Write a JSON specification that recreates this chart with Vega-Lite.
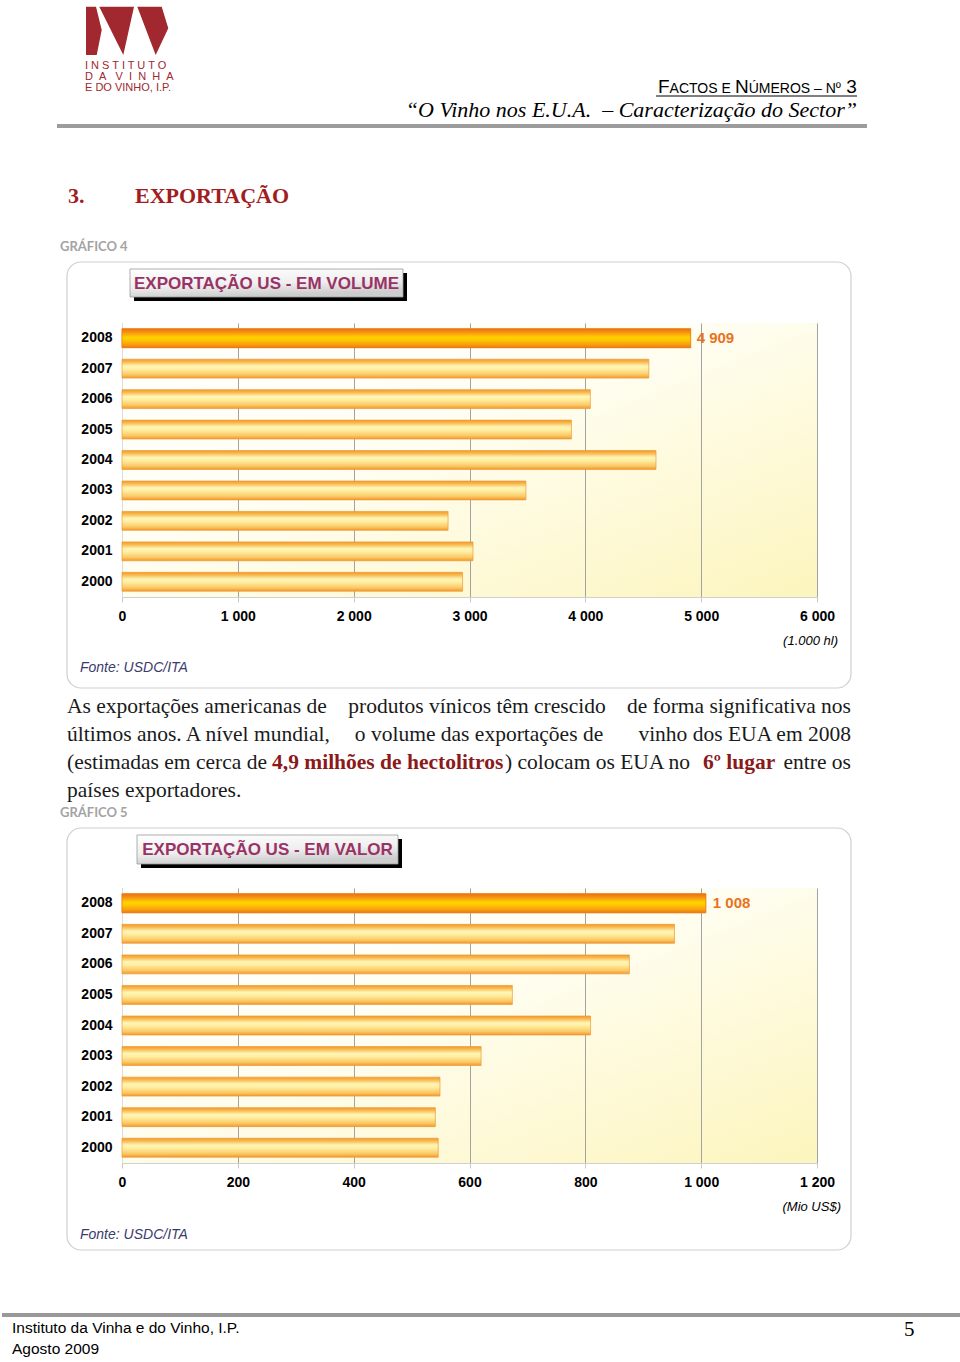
{
  "$schema": "https://vega.github.io/schema/vega-lite/v6.json",
  "padding": 0,
  "spacing": 0,
  "bounds": "flush",
  "background": "#ffffff",
  "config": {
    "view": {"stroke": null},
    "font": "Liberation Sans",
    "locale": {"number": {"decimal": ",", "thousands": " ", "grouping": [3], "currency": ["", " €"]}}
  },
  "datasets": {
    "volume": [
      {"year": "2000", "value": 2940}, {"year": "2001", "value": 3030}, {"year": "2002", "value": 2815},
      {"year": "2003", "value": 3487}, {"year": "2004", "value": 4610}, {"year": "2005", "value": 3880},
      {"year": "2006", "value": 4043}, {"year": "2007", "value": 4548}, {"year": "2008", "value": 4909}
    ],
    "valor": [
      {"year": "2000", "value": 546}, {"year": "2001", "value": 541}, {"year": "2002", "value": 549},
      {"year": "2003", "value": 620}, {"year": "2004", "value": 809}, {"year": "2005", "value": 674},
      {"year": "2006", "value": 876}, {"year": "2007", "value": 954}, {"year": "2008", "value": 1008}
    ]
  },
  "vconcat": [
    {
      "width": 960, "height": 323,
      "layer": [
        {"data": {"values": [{"t": "logo"}]}, "mark": {"type": "point", "filled": true, "size": 7056, "color": "#a0282e", "opacity": 1, "strokeWidth": 0, "shape": "M-0.976,-0.579L-0.738,-0.579L-0.602,-0.024L-0.721,0.571L-0.976,0.571Z M-0.660,-0.579L0.167,-0.579L-0.088,0.571Z M0.245,-0.579L0.826,-0.579L0.983,-0.064L0.683,0.571Z"}, "encoding": {"x": {"value": 127}, "y": {"value": 31}}},
        {"data": {"values": [{"t": "I N S T I T U T O"}]}, "mark": {"type": "text", "align": "left", "baseline": "middle", "fontSize": 11, "color": "#a0282e", "x": 85, "y": 66}, "encoding": {"text": {"field": "t"}}},
        {"data": {"values": [{"t": "D\u00a0\u00a0A\u00a0\u00a0\u00a0V\u00a0\u00a0I\u00a0\u00a0N\u00a0\u00a0H\u00a0\u00a0A"}]}, "mark": {"type": "text", "align": "left", "baseline": "middle", "fontSize": 11, "color": "#a0282e", "x": 85, "y": 76.5}, "encoding": {"text": {"field": "t"}}},
        {"data": {"values": [{"t": "E DO VINHO, I.P."}]}, "mark": {"type": "text", "align": "left", "baseline": "middle", "fontSize": 11, "color": "#a0282e", "x": 85, "y": 87.5}, "encoding": {"text": {"field": "t"}}},
        {"data": {"values": [{"t": "F"}]}, "mark": {"type": "text", "align": "left", "baseline": "alphabetic", "fontSize": 19, "color": "#000000", "x": 658, "y": 93}, "encoding": {"text": {"field": "t"}}},
        {"data": {"values": [{"t": "ACTOS E"}]}, "mark": {"type": "text", "align": "left", "baseline": "alphabetic", "fontSize": 14, "color": "#000000", "x": 669.6, "y": 93}, "encoding": {"text": {"field": "t"}}},
        {"data": {"values": [{"t": "N"}]}, "mark": {"type": "text", "align": "left", "baseline": "alphabetic", "fontSize": 19, "color": "#000000", "x": 735, "y": 93}, "encoding": {"text": {"field": "t"}}},
        {"data": {"values": [{"t": "ÚMEROS – N"}]}, "mark": {"type": "text", "align": "left", "baseline": "alphabetic", "fontSize": 14, "color": "#000000", "x": 748.7, "y": 93}, "encoding": {"text": {"field": "t"}}},
        {"data": {"values": [{"t": "º"}]}, "mark": {"type": "text", "align": "left", "baseline": "alphabetic", "fontSize": 14, "color": "#000000", "x": 835.8, "y": 93}, "encoding": {"text": {"field": "t"}}},
        {"data": {"values": [{"t": "3"}]}, "mark": {"type": "text", "align": "left", "baseline": "alphabetic", "fontSize": 19, "color": "#000000", "x": 846.2, "y": 93}, "encoding": {"text": {"field": "t"}}},
        {"data": {"values": [{"t": "underline"}]}, "mark": {"type": "rule", "color": "#000000", "strokeWidth": 1}, "encoding": {"x": {"value": 656}, "x2": {"value": 857}, "y": {"value": 96}}},
        {"data": {"values": [{"t": "“O Vinho nos E.U.A.\u00a0 – Caracterização do Sector”"}]}, "mark": {"type": "text", "align": "right", "baseline": "alphabetic", "font": "Liberation Serif", "fontStyle": "italic", "fontSize": 22, "color": "#000000", "x": 857, "y": 117}, "encoding": {"text": {"field": "t"}}},
        {"data": {"values": [{"t": "rule"}]}, "mark": {"type": "rule", "color": "#9c9c9c", "strokeWidth": 4}, "encoding": {"x": {"value": 57}, "x2": {"value": 867}, "y": {"value": 126}}},
        {"data": {"values": [{"t": "3."}]}, "mark": {"type": "text", "align": "left", "baseline": "alphabetic", "font": "Liberation Serif", "fontWeight": "bold", "fontSize": 22, "color": "#a11d21", "x": 68, "y": 203}, "encoding": {"text": {"field": "t"}}},
        {"data": {"values": [{"t": "EXPORTAÇÃO"}]}, "mark": {"type": "text", "align": "left", "baseline": "alphabetic", "font": "Liberation Serif", "fontWeight": "bold", "fontSize": 22, "color": "#a11d21", "x": 135, "y": 203}, "encoding": {"text": {"field": "t"}}},
        {"data": {"values": [{"t": "GRÁFICO 4"}]}, "mark": {"type": "text", "align": "left", "baseline": "alphabetic", "font": "Lato", "fontWeight": "bold", "fontSize": 13, "color": "#a3a3a3", "x": 60, "y": 251}, "encoding": {"text": {"field": "t"}}},
        {"data": {"values": [{"t": "box"}]}, "mark": {"type": "rect", "cornerRadius": 14, "fill": "#ffffff", "fillOpacity": 0, "stroke": "#cfcfcf", "strokeWidth": 1.2}, "encoding": {"x": {"value": 67}, "x2": {"value": 851}, "y": {"value": 262}, "y2": {"value": 688}}},
        {"data": {"values": [{"t": "plot background"}]}, "mark": {"type": "rect", "fill": {"gradient": "linear", "x1": 0, "y1": 0, "x2": 1, "y2": 1, "stops": [{"offset": 0, "color": "#ffffff"}, {"offset": 0.4, "color": "#fffef4"}, {"offset": 1, "color": "#fcf5bd"}]}}, "encoding": {"x": {"value": 122}, "x2": {"value": 817}, "y": {"value": 323}, "y2": {"value": 597}}},
        {"data": {"values": [{"t": "shadow"}]}, "mark": {"type": "rect", "color": "#000000"}, "encoding": {"x": {"value": 134}, "x2": {"value": 407}, "y": {"value": 273}, "y2": {"value": 301}}},
        {"data": {"values": [{"t": "titlebox"}]}, "mark": {"type": "rect", "stroke": "#9a9a9a", "strokeWidth": 0.8, "fill": {"gradient": "linear", "x1": 0, "y1": 0, "x2": 0.3, "y2": 1, "stops": [{"offset": 0, "color": "#ffffff"}, {"offset": 0.6, "color": "#efefef"}, {"offset": 1, "color": "#cdcdcd"}]}}, "encoding": {"x": {"value": 130}, "x2": {"value": 403}, "y": {"value": 269}, "y2": {"value": 297}}},
        {"data": {"values": [{"t": "EXPORTAÇÃO US - EM VOLUME"}]}, "mark": {"type": "text", "align": "center", "baseline": "middle", "fontWeight": "bold", "fontSize": 17, "color": "#993366", "x": 266.5, "y": 284}, "encoding": {"text": {"field": "t"}}}
      ]
    },
    {
      "width": 960, "height": 274,
      "data": {"name": "volume"},
      "encoding": {
        "y": {"field": "year", "type": "ordinal", "sort": "descending", "scale": {"paddingInner": 0.38, "paddingOuter": 0.19},
          "axis": {"title": null, "offset": -122, "ticks": false, "domain": true, "domainColor": "#dcdcdc", "labelFontSize": 14, "labelFontWeight": "bold", "labelColor": "#000000", "labelPadding": 10}},
        "x": {"field": "value", "type": "quantitative", "scale": {"domain": [0, 6000], "nice": false, "range": [122, 817]},
          "axis": {"title": null, "values": [0, 1000, 2000, 3000, 4000, 5000, 6000], "format": ",d", "grid": true, "gridColor": "#a3a3a3", "gridWidth": 1, "domainColor": "#d0d0d0", "tickColor": "#c8c8c8", "tickSize": 5, "labelPadding": 7, "labelFlush": false, "labelFontSize": 14, "labelFontWeight": "bold", "labelColor": "#000000"}}
      },
      "layer": [
        {"mark": {"type": "bar", "stroke": "#ef9a35", "strokeWidth": 0.7, "fill": {"gradient": "linear", "x1": 0, "y1": 0, "x2": 0, "y2": 1, "stops": [{"offset": 0, "color": "#f39a2c"}, {"offset": 0.14, "color": "#f8b84c"}, {"offset": 0.36, "color": "#fff5b6"}, {"offset": 0.52, "color": "#ffefa2"}, {"offset": 0.82, "color": "#fbc865"}, {"offset": 1, "color": "#f2982a"}]}}},
        {"transform": [{"filter": "datum.year == '2008'"}], "mark": {"type": "bar", "stroke": "#ea7a12", "strokeWidth": 0.7, "fill": {"gradient": "linear", "x1": 0, "y1": 0, "x2": 0, "y2": 1, "stops": [{"offset": 0, "color": "#ef7010"}, {"offset": 0.16, "color": "#f58c14"}, {"offset": 0.45, "color": "#ffd200"}, {"offset": 0.6, "color": "#ffc600"}, {"offset": 0.86, "color": "#f79a12"}, {"offset": 1, "color": "#ec7810"}]}}},
        {"transform": [{"filter": "datum.year == '2008'"}], "mark": {"type": "text", "align": "left", "baseline": "middle", "dx": 6, "fontSize": 15, "fontWeight": "bold", "color": "#e8731f"}, "encoding": {"text": {"field": "value", "type": "quantitative", "format": ",d"}}}
      ]
    },
    {
      "width": 960, "height": 291,
      "layer": [
        {"data": {"values": [{"t": "(1.000 hl)"}]}, "mark": {"type": "text", "align": "right", "baseline": "middle", "fontStyle": "italic", "fontSize": 13, "color": "#000000", "x": 838, "y": 44}, "encoding": {"text": {"field": "t"}}},
        {"data": {"values": [{"t": "Fonte: USDC/ITA"}]}, "mark": {"type": "text", "align": "left", "baseline": "middle", "fontStyle": "italic", "fontSize": 14, "color": "#3b3b6e", "x": 80, "y": 71}, "encoding": {"text": {"field": "t"}}},
        {"data": {"values": [{"t": "As exportações americanas de"}]}, "mark": {"type": "text", "align": "left", "baseline": "middle", "font": "Liberation Serif", "fontSize": 21.5, "color": "#1a1a1a", "x": 67, "y": 110}, "encoding": {"text": {"field": "t"}}},
        {"data": {"values": [{"t": "produtos vínicos têm crescido"}]}, "mark": {"type": "text", "align": "center", "baseline": "middle", "font": "Liberation Serif", "fontSize": 21.5, "color": "#1a1a1a", "x": 477, "y": 110}, "encoding": {"text": {"field": "t"}}},
        {"data": {"values": [{"t": "de forma significativa nos"}]}, "mark": {"type": "text", "align": "right", "baseline": "middle", "font": "Liberation Serif", "fontSize": 21.5, "color": "#1a1a1a", "x": 851, "y": 110}, "encoding": {"text": {"field": "t"}}},
        {"data": {"values": [{"t": "últimos anos. A nível mundial,"}]}, "mark": {"type": "text", "align": "left", "baseline": "middle", "font": "Liberation Serif", "fontSize": 21.5, "color": "#1a1a1a", "x": 67, "y": 138}, "encoding": {"text": {"field": "t"}}},
        {"data": {"values": [{"t": "o volume das exportações de"}]}, "mark": {"type": "text", "align": "center", "baseline": "middle", "font": "Liberation Serif", "fontSize": 21.5, "color": "#1a1a1a", "x": 479, "y": 138}, "encoding": {"text": {"field": "t"}}},
        {"data": {"values": [{"t": "vinho dos EUA em 2008"}]}, "mark": {"type": "text", "align": "right", "baseline": "middle", "font": "Liberation Serif", "fontSize": 21.5, "color": "#1a1a1a", "x": 851, "y": 138}, "encoding": {"text": {"field": "t"}}},
        {"data": {"values": [{"t": "(estimadas em cerca de"}]}, "mark": {"type": "text", "align": "left", "baseline": "middle", "font": "Liberation Serif", "fontSize": 21.5, "color": "#1a1a1a", "x": 67, "y": 166}, "encoding": {"text": {"field": "t"}}},
        {"data": {"values": [{"t": "4,9 milhões de hectolitros"}]}, "mark": {"type": "text", "align": "left", "baseline": "middle", "font": "Liberation Serif", "fontWeight": "bold", "fontSize": 21.5, "color": "#8b1a1a", "x": 272, "y": 166}, "encoding": {"text": {"field": "t"}}},
        {"data": {"values": [{"t": ") colocam os EUA no"}]}, "mark": {"type": "text", "align": "left", "baseline": "middle", "font": "Liberation Serif", "fontSize": 21.5, "color": "#1a1a1a", "x": 505, "y": 166}, "encoding": {"text": {"field": "t"}}},
        {"data": {"values": [{"t": "6º lugar"}]}, "mark": {"type": "text", "align": "left", "baseline": "middle", "font": "Liberation Serif", "fontWeight": "bold", "fontSize": 21.5, "color": "#8b1a1a", "x": 703, "y": 166}, "encoding": {"text": {"field": "t"}}},
        {"data": {"values": [{"t": "entre os"}]}, "mark": {"type": "text", "align": "right", "baseline": "middle", "font": "Liberation Serif", "fontSize": 21.5, "color": "#1a1a1a", "x": 851, "y": 166}, "encoding": {"text": {"field": "t"}}},
        {"data": {"values": [{"t": "países exportadores."}]}, "mark": {"type": "text", "align": "left", "baseline": "middle", "font": "Liberation Serif", "fontSize": 21.5, "color": "#1a1a1a", "x": 67, "y": 194}, "encoding": {"text": {"field": "t"}}},
        {"data": {"values": [{"t": "GRÁFICO 5"}]}, "mark": {"type": "text", "align": "left", "baseline": "alphabetic", "font": "Lato", "fontWeight": "bold", "fontSize": 13, "color": "#a3a3a3", "x": 60, "y": 220}, "encoding": {"text": {"field": "t"}}},
        {"data": {"values": [{"t": "box"}]}, "mark": {"type": "rect", "cornerRadius": 14, "fill": "#ffffff", "fillOpacity": 0, "stroke": "#cfcfcf", "strokeWidth": 1.2}, "encoding": {"x": {"value": 67}, "x2": {"value": 851}, "y": {"value": 231}, "y2": {"value": 653}}},
        {"data": {"values": [{"t": "plot background"}]}, "mark": {"type": "rect", "fill": {"gradient": "linear", "x1": 0, "y1": 0, "x2": 1, "y2": 1, "stops": [{"offset": 0, "color": "#ffffff"}, {"offset": 0.4, "color": "#fffef4"}, {"offset": 1, "color": "#fcf5bd"}]}}, "encoding": {"x": {"value": 122}, "x2": {"value": 817}, "y": {"value": 291}, "y2": {"value": 566}}},
        {"data": {"values": [{"t": "shadow"}]}, "mark": {"type": "rect", "color": "#000000"}, "encoding": {"x": {"value": 141}, "x2": {"value": 402}, "y": {"value": 242}, "y2": {"value": 271}}},
        {"data": {"values": [{"t": "titlebox"}]}, "mark": {"type": "rect", "stroke": "#9a9a9a", "strokeWidth": 0.8, "fill": {"gradient": "linear", "x1": 0, "y1": 0, "x2": 0.3, "y2": 1, "stops": [{"offset": 0, "color": "#ffffff"}, {"offset": 0.6, "color": "#efefef"}, {"offset": 1, "color": "#cdcdcd"}]}}, "encoding": {"x": {"value": 137}, "x2": {"value": 398}, "y": {"value": 238}, "y2": {"value": 267}}},
        {"data": {"values": [{"t": "EXPORTAÇÃO US - EM VALOR"}]}, "mark": {"type": "text", "align": "center", "baseline": "middle", "fontWeight": "bold", "fontSize": 17, "color": "#993366", "x": 267.5, "y": 253}, "encoding": {"text": {"field": "t"}}}
      ]
    },
    {
      "width": 960, "height": 275,
      "data": {"name": "valor"},
      "encoding": {
        "y": {"field": "year", "type": "ordinal", "sort": "descending", "scale": {"paddingInner": 0.38, "paddingOuter": 0.19},
          "axis": {"title": null, "offset": -122, "ticks": false, "domain": true, "domainColor": "#dcdcdc", "labelFontSize": 14, "labelFontWeight": "bold", "labelColor": "#000000", "labelPadding": 10}},
        "x": {"field": "value", "type": "quantitative", "scale": {"domain": [0, 1200], "nice": false, "range": [122, 817]},
          "axis": {"title": null, "values": [0, 200, 400, 600, 800, 1000, 1200], "format": ",d", "grid": true, "gridColor": "#a3a3a3", "gridWidth": 1, "domainColor": "#d0d0d0", "tickColor": "#c8c8c8", "tickSize": 5, "labelPadding": 7, "labelFlush": false, "labelFontSize": 14, "labelFontWeight": "bold", "labelColor": "#000000"}}
      },
      "layer": [
        {"mark": {"type": "bar", "stroke": "#ef9a35", "strokeWidth": 0.7, "fill": {"gradient": "linear", "x1": 0, "y1": 0, "x2": 0, "y2": 1, "stops": [{"offset": 0, "color": "#f39a2c"}, {"offset": 0.14, "color": "#f8b84c"}, {"offset": 0.36, "color": "#fff5b6"}, {"offset": 0.52, "color": "#ffefa2"}, {"offset": 0.82, "color": "#fbc865"}, {"offset": 1, "color": "#f2982a"}]}}},
        {"transform": [{"filter": "datum.year == '2008'"}], "mark": {"type": "bar", "stroke": "#ea7a12", "strokeWidth": 0.7, "fill": {"gradient": "linear", "x1": 0, "y1": 0, "x2": 0, "y2": 1, "stops": [{"offset": 0, "color": "#ef7010"}, {"offset": 0.16, "color": "#f58c14"}, {"offset": 0.45, "color": "#ffd200"}, {"offset": 0.6, "color": "#ffc600"}, {"offset": 0.86, "color": "#f79a12"}, {"offset": 1, "color": "#ec7810"}]}}},
        {"transform": [{"filter": "datum.year == '2008'"}], "mark": {"type": "text", "align": "left", "baseline": "middle", "dx": 7, "fontSize": 15, "fontWeight": "bold", "color": "#e8731f"}, "encoding": {"text": {"field": "value", "type": "quantitative", "format": ",d"}}}
      ]
    },
    {
      "width": 960, "height": 199,
      "layer": [
        {"data": {"values": [{"t": "(Mio US$)"}]}, "mark": {"type": "text", "align": "right", "baseline": "middle", "fontStyle": "italic", "fontSize": 13, "color": "#000000", "x": 841, "y": 44}, "encoding": {"text": {"field": "t"}}},
        {"data": {"values": [{"t": "Fonte: USDC/ITA"}]}, "mark": {"type": "text", "align": "left", "baseline": "middle", "fontStyle": "italic", "fontSize": 14, "color": "#3b3b6e", "x": 80, "y": 72}, "encoding": {"text": {"field": "t"}}},
        {"data": {"values": [{"t": "rule"}]}, "mark": {"type": "rule", "color": "#999999", "strokeWidth": 4}, "encoding": {"x": {"value": 2}, "x2": {"value": 960}, "y": {"value": 152}}},
        {"data": {"values": [{"t": "Instituto da Vinha e do Vinho, I.P."}]}, "mark": {"type": "text", "align": "left", "baseline": "middle", "fontSize": 15.5, "color": "#000000", "x": 12, "y": 165}, "encoding": {"text": {"field": "t"}}},
        {"data": {"values": [{"t": "Agosto 2009"}]}, "mark": {"type": "text", "align": "left", "baseline": "middle", "fontSize": 15.5, "color": "#000000", "x": 12, "y": 186}, "encoding": {"text": {"field": "t"}}},
        {"data": {"values": [{"t": "5"}]}, "mark": {"type": "text", "align": "left", "baseline": "middle", "font": "Liberation Serif", "fontSize": 21, "color": "#000000", "x": 904, "y": 167}, "encoding": {"text": {"field": "t"}}}
      ]
    }
  ]
}
